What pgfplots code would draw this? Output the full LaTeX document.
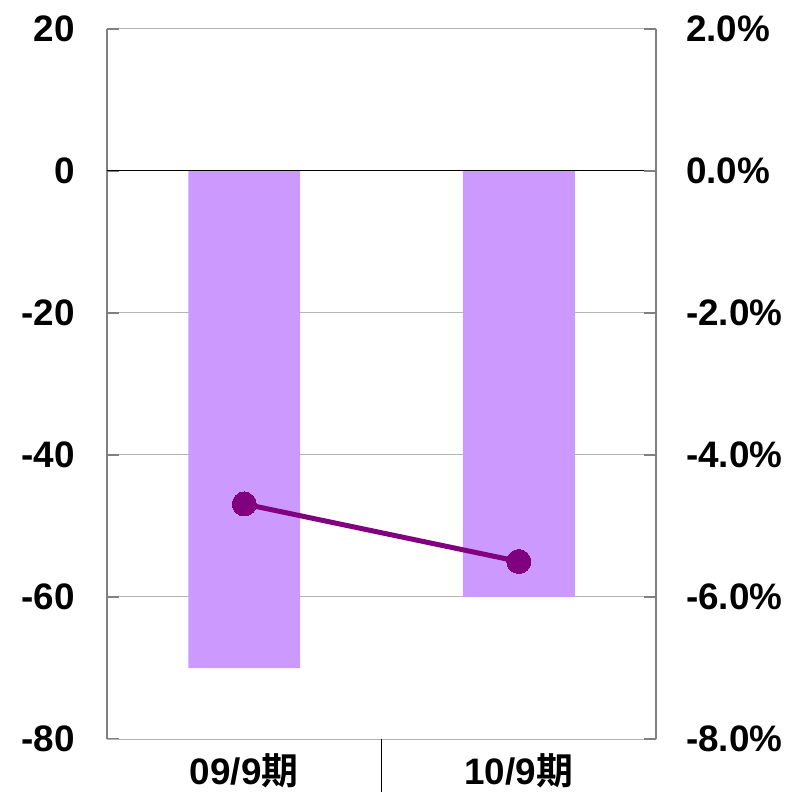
\documentclass[border=0pt]{standalone}
\usepackage{pgfplots}
\pgfplotsset{compat=1.18}
\usepackage{fontspec}
\setmainfont{Liberation Sans}
\newfontfamily\cjk{Noto Sans CJK JP}[BoldFont={* Bold}]
\definecolor{barc}{HTML}{CC99FF}
\definecolor{linec}{HTML}{800080}
\definecolor{gridc}{HTML}{B4B4B4}
\definecolor{axc}{HTML}{808080}
\begin{document}
\begin{tikzpicture}
\pgfplotsset{
  every tick label/.append style={font=\fontsize{37}{40}\selectfont\bfseries},
  /pgf/number format/assume math mode=true,
}
\begin{axis}[
  scale only axis, width=549bp, height=710bp, at={(0,0)}, anchor=south west,
  xmin=-0.5, xmax=1.5, ymin=-80, ymax=20,
  ytick={-80,-60,-40,-20,0,20},
  xtick={0,1},
  xticklabels={{09/9{\cjk 期}},{10/9{\cjk 期}}},
  major x tick style={draw=none},
  axis y line*=left, axis x line*=bottom,
  x axis line style={gridc, line width=1bp, -},
  y axis line style={axc, line width=1.5bp, -},
  ymajorgrids, grid style={gridc, line width=1bp},
  tick align=inside, major tick length=12bp,
  major y tick style={axc, line width=1.5bp},
  yticklabel style={inner sep=0pt, xshift=-32bp},
  xticklabel style={inner sep=0pt, yshift=-14bp},
  clip=false,
]
\addplot[ybar, bar width=0.408, fill=barc, draw=none] coordinates {(0,-70) (1,-60)};
\addplot[black, line width=1bp, forget plot] coordinates {(-0.5,0) (1.5,0)};
\draw[black, line width=1bp] (axis cs:0.5,-80) -- ([yshift=-53bp]axis cs:0.5,-80);
\end{axis}
\begin{axis}[
  scale only axis, width=549bp, height=710bp, at={(0,0)}, anchor=south west,
  xmin=-0.5, xmax=1.5, ymin=-8, ymax=2,
  ytick={-8,-6,-4,-2,0,2},
  yticklabel={\pgfmathprintnumber[fixed,fixed zerofill,precision=1]{\tick}\%},
  axis y line*=right, axis x line=none,
  y axis line style={axc, line width=1.5bp, -},
  tick align=inside, major tick length=12bp,
  major y tick style={axc, line width=1.5bp},
  yticklabel style={inner sep=0pt, xshift=30bp},
  clip=false,
]
\addplot[linec, line width=5bp, mark=*, mark size=12bp, mark options={fill=linec, draw=linec, line width=0bp}] coordinates {(0,-4.69) (1,-5.5)};
\end{axis}
\pgfresetboundingbox
\path[use as bounding box] (-107bp,-53bp) rectangle (682bp,739bp);
\end{tikzpicture}
\end{document}
